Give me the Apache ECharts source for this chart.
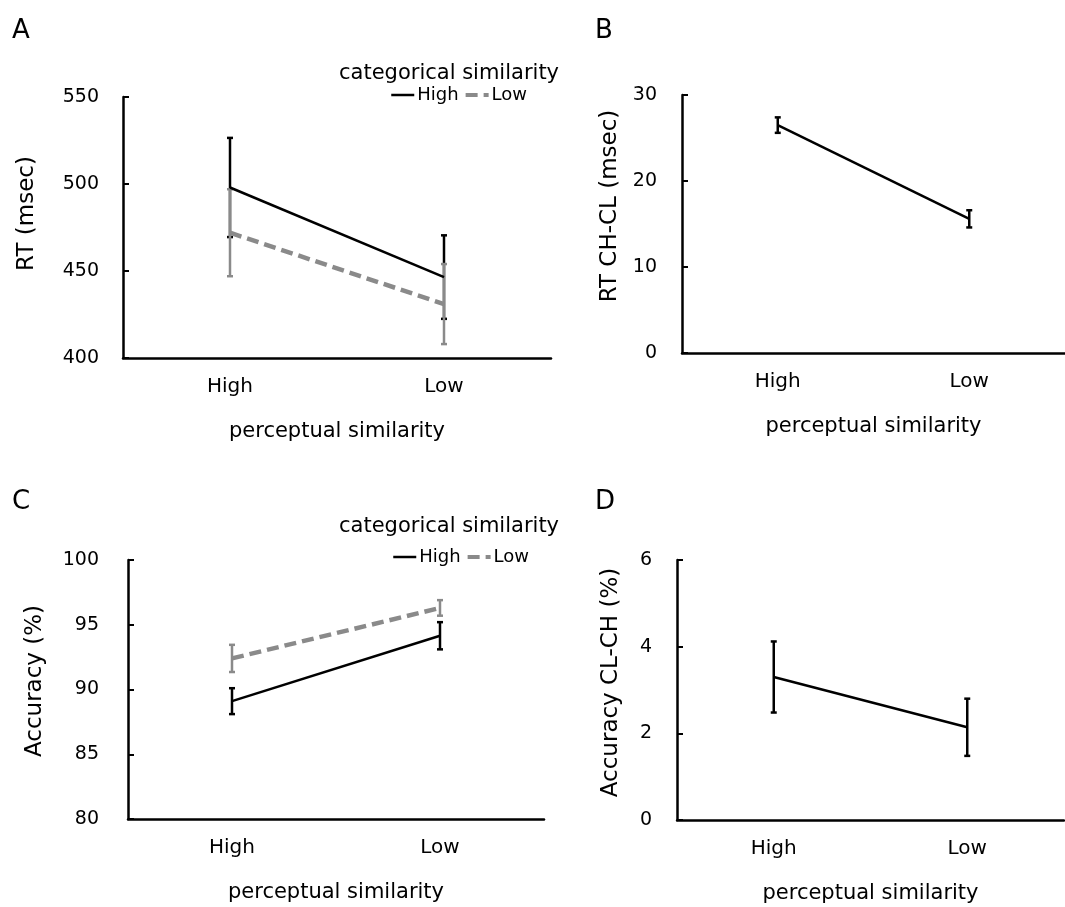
<!DOCTYPE html>
<html>
<head>
<meta charset="utf-8">
<script src="https://cdn.jsdelivr.net/npm/echarts@6/dist/echarts.min.js"></script>
<style>
  html, body { margin: 0; padding: 0; background: #fff; }
  #chart { width: 1065px; height: 907px; }
</style>
</head>
<body>
<div id="chart"></div>
<script>
// data
var categories = ['High', 'Low'];

// A: RT (msec)
var rtHigh = [498, 446.5];
var rtHighErr = [28.5, 24];
var rtLow = [472, 431];
var rtLowErr = [25, 23];
var rtTicks = [400, 450, 500, 550];

// B: RT CH-CL (msec)
var rtDiff = [26.5, 15.6];
var rtDiffErr = [0.9, 1.0];
var rtDiffTicks = [0, 10, 20, 30];

// C: Accuracy (%)
var accHigh = [89.1, 94.15];
var accHighErr = [1.0, 1.05];
var accLow = [92.4, 96.3];
var accLowErr = [1.05, 0.6];
var accTicks = [80, 85, 90, 95, 100];

// D: Accuracy CL-CH (%)
var accDiff = [3.3, 2.14];
var accDiffErr = [0.82, 0.66];
var accDiffTicks = [0, 2, 4, 6];

var FONT = 'DejaVu Sans';
var GRAY = '#8a8a8a';

var myChart = echarts.init(document.getElementById('chart'));

function xAxisOf(gi) {
  return {
    gridIndex: gi,
    type: 'category',
    data: categories,
    axisLine: { lineStyle: { color: '#000', width: 2.5 } },
    axisTick: { show: false },
    axisLabel: { margin: 19, fontSize: 20, color: '#000', fontFamily: FONT },
    name: 'perceptual similarity',
    nameLocation: 'middle',
    nameGap: 63,
    nameTextStyle: { fontSize: 21, color: '#000', fontFamily: FONT }
  };
}

function yAxisOf(gi, ticks, name, nameGap, labelMargin, shift) {
  return {
    gridIndex: gi,
    type: 'value',
    min: ticks[0],
    max: ticks[ticks.length - 1],
    interval: ticks[1] - ticks[0],
    axisLine: { show: true, lineStyle: { color: '#000', width: 2.5 } },
    axisTick: { show: true, inside: true, length: 6, lineStyle: { color: '#000', width: 2 } },
    splitLine: { show: false },
    axisLabel: { margin: labelMargin, fontSize: 19, color: '#000', fontFamily: FONT },
    name: name,
    nameLocation: 'middle',
    nameGap: nameGap,
    nameTextStyle: { fontSize: 23, color: '#000', fontFamily: FONT, padding: [0, 0, 0, shift] }
  };
}

function lineOf(name, gi, data, color, width, dash) {
  return {
    name: name,
    type: 'line',
    xAxisIndex: gi,
    yAxisIndex: gi,
    data: data,
    symbol: 'none',
    silent: true,
    animation: false,
    lineStyle: { color: color, width: width, type: dash || 'solid' },
    itemStyle: { color: color }
  };
}

// error bars drawn through the axes' own coordinate mapping
function errOf(gi, means, errs, color) {
  return {
    name: 'err',
    type: 'custom',
    xAxisIndex: gi,
    yAxisIndex: gi,
    silent: true,
    animation: false,
    encode: { x: 0, y: 1 },
    data: means.map(function (m, i) { return [i, m, errs[i]]; }),
    renderItem: function (params, api) {
      var x = api.value(0), m = api.value(1), e = api.value(2);
      var top = api.coord([x, m + e]);
      var bot = api.coord([x, m - e]);
      var st = { stroke: color, lineWidth: 2.5 };
      return {
        type: 'group',
        children: [
          { type: 'line', shape: { x1: top[0], y1: top[1], x2: bot[0], y2: bot[1] }, style: st },
          { type: 'line', shape: { x1: top[0] - 3, y1: top[1], x2: top[0] + 3, y2: top[1] }, style: st },
          { type: 'line', shape: { x1: bot[0] - 3, y1: bot[1], x2: bot[0] + 3, y2: bot[1] }, style: st }
        ]
      };
    }
  };
}

function panelLabel(t, left, top) {
  return { text: t, left: left, top: top, padding: 0,
    textStyle: { fontSize: 26, fontWeight: 'normal', color: '#000', fontFamily: FONT } };
}

function legendTitle(left, top) {
  return { text: 'categorical similarity', left: left, top: top, padding: 0,
    textStyle: { fontSize: 21, fontWeight: 'normal', color: '#000', fontFamily: FONT } };
}

function legendOf(left, top) {
  return {
    data: [
      { name: 'High', lineStyle: { width: 2.5 } },
      { name: 'Low', lineStyle: { width: 4 } }
    ],
    left: left,
    top: top,
    padding: 0,
    itemGap: 5,
    itemWidth: 23,
    itemHeight: 14,
    selectedMode: false,
    itemStyle: { opacity: 0 },
    textStyle: { fontSize: 18, color: '#000', fontFamily: FONT, padding: [0, 0, 0, -2] }
  };
}

myChart.setOption({
  animation: false,
  title: [
    panelLabel('A', 12, 18),
    panelLabel('B', 595, 18),
    panelLabel('C', 12, 489),
    panelLabel('D', 595, 489),
    legendTitle(339, 63),
    legendTitle(339, 516)
  ],
  legend: [legendOf(390, 86), legendOf(392, 548)],
  grid: [
    { left: 123, top: 97, width: 428, height: 261 },
    { left: 682, top: 95, width: 390, height: 258 },
    { left: 128, top: 560, width: 416, height: 259 },
    { left: 677, top: 560, width: 387, height: 260 }
  ],
  xAxis: [xAxisOf(0), xAxisOf(1), xAxisOf(2), xAxisOf(3)],
  yAxis: [
    yAxisOf(0, rtTicks, 'RT (msec)', 84, 24, 28),
    yAxisOf(1, rtDiffTicks, 'RT CH-CL (msec)', 60, 25, 36),
    yAxisOf(2, accTicks, 'Accuracy (%)', 81, 29, 17),
    yAxisOf(3, accDiffTicks, 'Accuracy CL-CH (%)', 54, 25, 15)
  ],
  series: [
    lineOf('High', 0, rtHigh, '#000', 2.5),
    errOf(0, rtHigh, rtHighErr, '#000'),
    lineOf('Low', 0, rtLow, GRAY, 4.5, [12, 6]),
    errOf(0, rtLow, rtLowErr, GRAY),

    lineOf('diff', 1, rtDiff, '#000', 2.5),
    errOf(1, rtDiff, rtDiffErr, '#000'),

    lineOf('High', 2, accHigh, '#000', 2.5),
    errOf(2, accHigh, accHighErr, '#000'),
    lineOf('Low', 2, accLow, GRAY, 4.5, [12, 6]),
    errOf(2, accLow, accLowErr, GRAY),

    lineOf('diff', 3, accDiff, '#000', 2.5),
    errOf(3, accDiff, accDiffErr, '#000')
  ]
});
</script>
</body>
</html>
